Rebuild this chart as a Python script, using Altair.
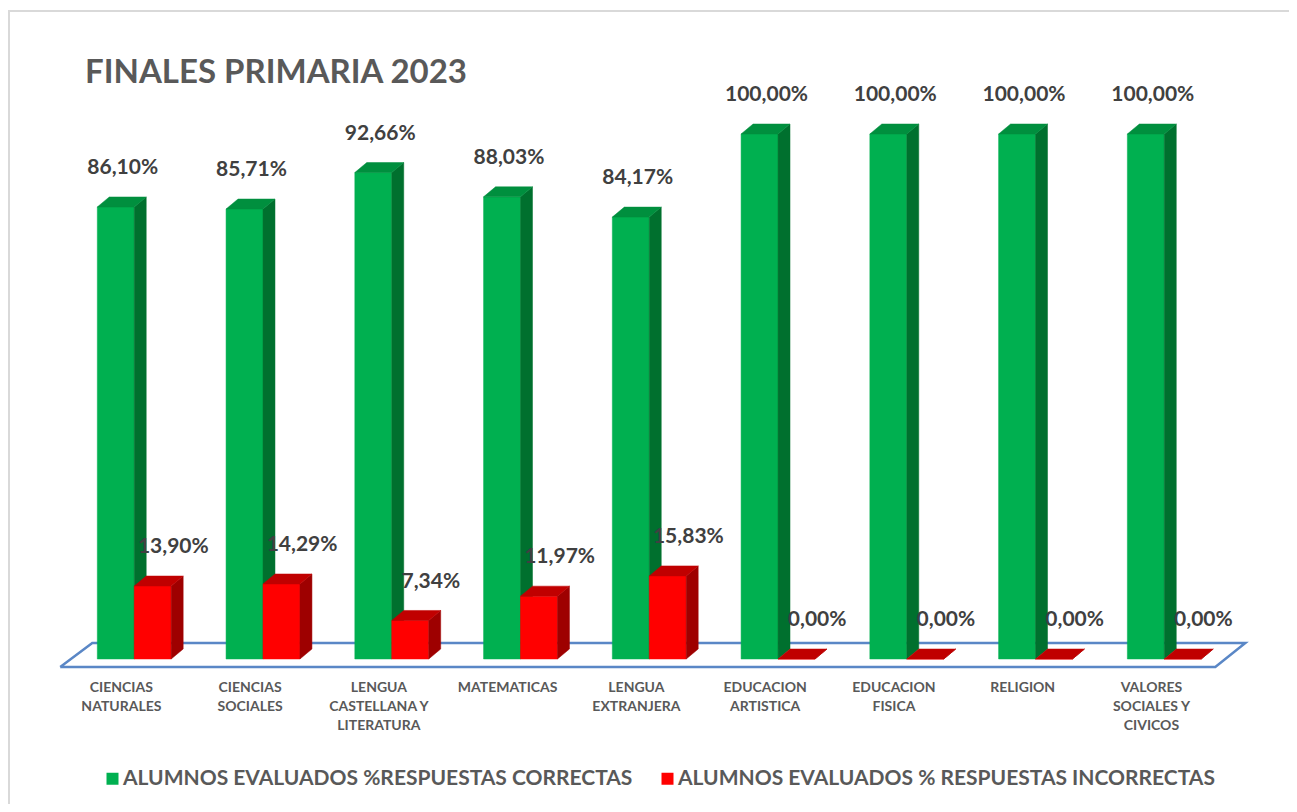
import altair as alt
import pandas as pd

# ---------------- data ----------------
categories = [
    "CIENCIAS\nNATURALES",
    "CIENCIAS\nSOCIALES",
    "LENGUA\nCASTELLANA Y\nLITERATURA",
    "MATEMATICAS",
    "LENGUA\nEXTRANJERA",
    "EDUCACION\nARTISTICA",
    "EDUCACION\nFISICA",
    "RELIGION",
    "VALORES\nSOCIALES Y\nCIVICOS",
]
correctas = [86.10, 85.71, 92.66, 88.03, 84.17, 100.00, 100.00, 100.00, 100.00]
incorrectas = [13.90, 14.29, 7.34, 11.97, 15.83, 0.00, 0.00, 0.00, 0.00]
series = [
    "ALUMNOS EVALUADOS %RESPUESTAS CORRECTAS",
    "ALUMNOS EVALUADOS % RESPUESTAS INCORRECTAS",
]

# ---------------- styling / geometry ----------------
GREEN, GREEN_TOP, GREEN_SIDE = "#00B050", "#008F3E", "#00702E"
RED, RED_TOP, RED_SIDE = "#FF0000", "#C00000", "#9E0000"
FLOOR = "#5A87C6"
FONT = "Lato"

BAR_W = 0.287   # bar width in category units
DX = 0.093      # 3D depth, horizontal (category units)
DY = 1.905      # 3D depth, vertical (value units)

xs = alt.Scale(domain=[-0.6, 8.65], nice=False, zero=False)
ys = alt.Scale(domain=[-16.381, 110.667], nice=False, zero=False)


def fmt(v):
    return f"{v:.2f}".replace(".", ",") + "%"


def bar_layers(vals, serie, front, top, side, left_off):
    fr, sd, tp = [], [], []
    for i, v in enumerate(vals):
        xl = i + left_off
        xr = xl + BAR_W
        fr.append(dict(id=i, serie=serie, x0=xl, x1=xr, y0=0.0, y1=v))
        sd += [dict(id=i, sx=xr, sy=0.0, sy2=v),
               dict(id=i, sx=xr + DX, sy=DY, sy2=v + DY)]
        tp += [dict(id=i, ty=v, tx=xl, tx2=xr),
               dict(id=i, ty=v + DY, tx=xl + DX, tx2=xr + DX)]
    cscale = alt.Scale(domain=series, range=[GREEN, RED])
    f = alt.Chart(pd.DataFrame(fr)).mark_rect(strokeWidth=0.5).encode(
        x=alt.X("x0:Q", scale=xs, axis=None),
        x2="x1:Q",
        y=alt.Y("y0:Q", scale=ys, axis=None),
        y2="y1:Q",
        color=alt.Color(
            "serie:N",
            scale=cscale,
            legend=alt.Legend(
                title=None, orient="none", legendX=45, legendY=690,
                direction="horizontal", symbolType="square", symbolSize=144,
                symbolStrokeWidth=0, labelFont=FONT, labelFontSize=21,
                labelFontWeight="bold", labelColor="#595959", labelOffset=0,
                columnPadding=24, padding=0, labelLimit=900,
            ),
        ),
        stroke=alt.Color("serie:N", scale=cscale, legend=None),
    )
    s = alt.Chart(pd.DataFrame(sd)).mark_area(
        color=side, stroke=side, strokeWidth=0.5
    ).encode(
        x=alt.X("sx:Q", scale=xs, axis=None),
        y=alt.Y("sy:Q", scale=ys, axis=None, stack=False),
        y2="sy2:Q",
        detail="id:N",
    )
    t = alt.Chart(pd.DataFrame(tp)).mark_area(
        orient="horizontal", color=top, stroke=top, strokeWidth=0.5
    ).encode(
        y=alt.Y("ty:Q", scale=ys, axis=None),
        x=alt.X("tx:Q", scale=xs, axis=None, stack=False),
        x2="tx2:Q",
        detail="id:N",
    )
    return [f, s, t]


green = bar_layers(correctas, series[0], GREEN, GREEN_TOP, GREEN_SIDE, -BAR_W)
red = bar_layers(incorrectas, series[1], RED, RED_TOP, RED_SIDE, 0.0)

# floor outline (parallelogram)
n = len(categories)
floor_df = pd.DataFrame({
    "fx": [-0.575, n - 1 + 0.396, n - 1 + 0.629, -0.326, -0.575],
    "fy": [-1.524, -1.524, 3.048, 3.048, -1.524],
    "o": [0, 1, 2, 3, 4],
})
floor = alt.Chart(floor_df).mark_line(color=FLOOR, strokeWidth=2.5).encode(
    x=alt.X("fx:Q", scale=xs, axis=None),
    y=alt.Y("fy:Q", scale=ys, axis=None),
    order="o:Q",
)

# chart-area frame (decorative)
frame = alt.Chart(pd.DataFrame({"k": [0]})).mark_rect(
    filled=False, stroke="#D9D9D9", strokeWidth=2
).encode(
    x=alt.value(-48), x2=alt.value(1260),
    y=alt.value(-67), y2=alt.value(760),
)

# value labels
g_lab = pd.DataFrame({
    "x": [i - BAR_W / 2 + 0.054 for i in range(n)],
    "y": [v + 7.43 for v in correctas],
    "t": [fmt(v) for v in correctas],
})
r_lab = pd.DataFrame({
    "x": [i + BAR_W / 2 + 0.16 for i in range(n)],
    "y": [v + 7.4 for v in incorrectas],
    "t": [fmt(v) for v in incorrectas],
})


def value_text(df):
    return alt.Chart(df).mark_text(
        font=FONT, fontSize=21, fontWeight="bold", color="#404040",
        align="center", baseline="middle",
    ).encode(
        x=alt.X("x:Q", scale=xs, axis=None),
        y=alt.Y("y:Q", scale=ys, axis=None),
        text="t:N",
    )


cat_df = pd.DataFrame({
    "x": [i - 0.1 for i in range(n)],
    "y": [-4.19] * n,
    "t": categories,
})
cat_text = alt.Chart(cat_df).mark_text(
    font=FONT, fontSize=14, fontWeight="bold", color="#595959",
    align="center", baseline="top", lineBreak="\n", lineHeight=19,
).encode(
    x=alt.X("x:Q", scale=xs, axis=None),
    y=alt.Y("y:Q", scale=ys, axis=None),
    text="t:N",
)

chart = alt.layer(
    frame, floor, *green, *red, value_text(g_lab), value_text(r_lab), cat_text
).properties(
    width=1191,
    height=667,
    title=alt.TitleParams(
        "FINALES PRIMARIA 2023", anchor="start", frame="group",
        font=FONT, fontSize=33, fontWeight="bold", color="#595959",
        dx=28, dy=80, offset=0,
    ),
    padding={"left": 49, "top": 70, "right": 41, "bottom": 59},
    autosize=alt.AutoSizeParams(type="none"),
    background="white",
).configure_view(strokeWidth=0)

chart.save("out.html", embed_options={"renderer": "svg", "actions": False})
